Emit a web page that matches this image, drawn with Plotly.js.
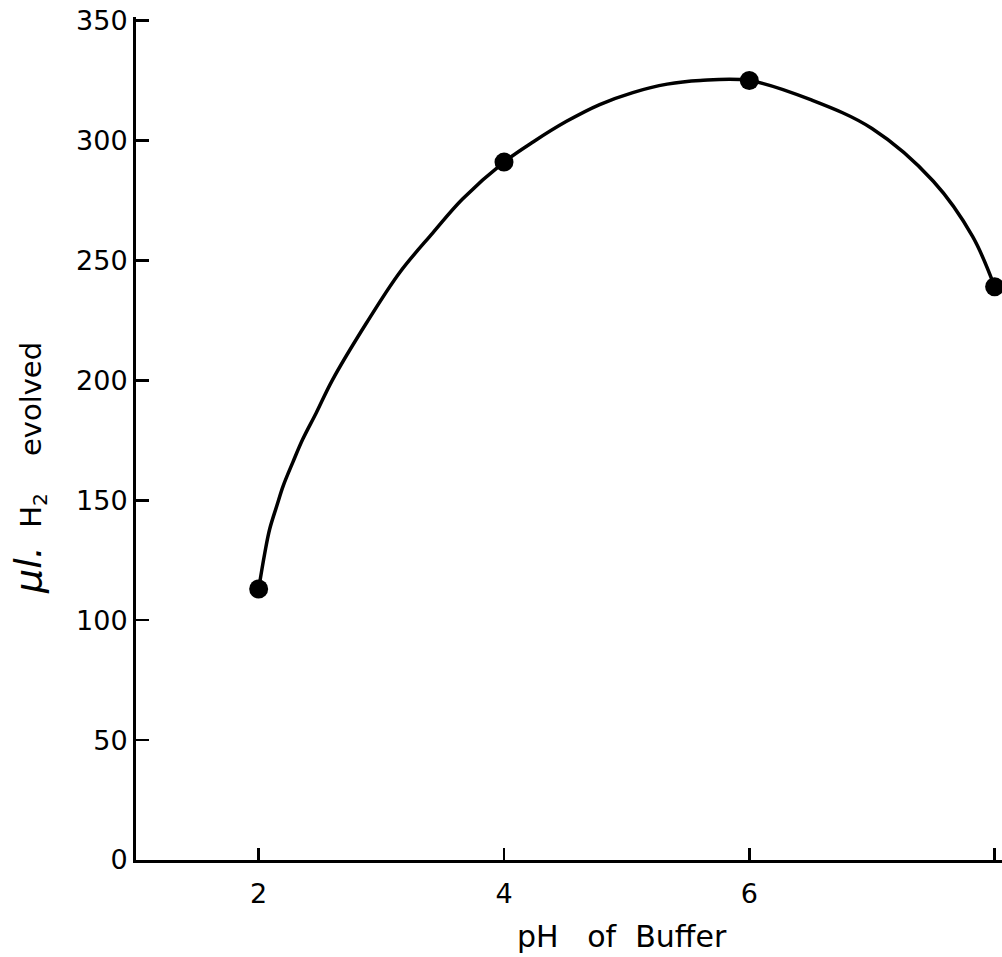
<!DOCTYPE html>
<html>
<head>
<meta charset="utf-8">
<script src="https://cdn.plot.ly/plotly-3.0.1.min.js"></script>
<style>html,body{margin:0;padding:0;background:#fff;}#chart{width:1002px;height:957px;}</style>
</head>
<body>
<div id="chart"></div>
<script>
// Measured points
var phValues = [2, 4, 6, 8];
var h2Evolved = [113, 291, 325, 239];

// Smooth curve drawn through the points
var curvePh = [2.0, 2.05, 2.09, 2.15, 2.2, 2.28, 2.36, 2.47, 2.6, 2.88, 3.15, 3.42, 3.66, 4.0, 4.24, 4.51, 4.78, 5.05, 5.33, 5.6, 6.0, 6.5, 7.0, 7.5, 7.82, 8.0];
var curveH2 = [113, 128, 138, 148, 156, 166, 175.5, 186.5, 200, 224, 245, 261.5, 275.5, 291, 299.5, 308, 315, 320, 323.5, 325, 325, 317, 305, 283, 260, 239];

var xTickVals = [2, 4, 6, 8];
var xTickText = ['2', '4', '6', '8'];
var yTickVals = [0, 50, 100, 150, 200, 250, 300, 350];
var yTickText = ['0', '50', '100', '150', '200', '250', '300', '350'];

var fontFam = 'DejaVu Sans, Verdana, sans-serif';

var traces = [
  {
    x: curvePh, y: curveH2, type: 'scatter', mode: 'lines',
    line: {color: '#000', width: 3.5, shape: 'spline', smoothing: 1.0},
    hoverinfo: 'skip', showlegend: false
  },
  {
    x: phValues, y: h2Evolved, type: 'scatter', mode: 'markers',
    marker: {color: '#000', size: 19},
    showlegend: false
  }
];

var layout = {
  width: 1002, height: 957,
  margin: {l: 136, r: 0, t: 17, b: 97, pad: 0},
  paper_bgcolor: '#fff', plot_bgcolor: '#fff',
  font: {family: fontFam, color: '#000', size: 27},
  showlegend: false,
  xaxis: {
    range: [1.0, 8.06], showgrid: false, zeroline: false,
    showline: true, linecolor: '#000', linewidth: 3,
    ticks: 'inside', ticklen: 12, tickwidth: 2.5, tickcolor: '#000',
    tickvals: xTickVals, ticktext: xTickText,
    tickfont: {family: fontFam, size: 27, color: '#000'},
    ticklabelstandoff: 8
  },
  yaxis: {
    range: [0, 351.5], showgrid: false, zeroline: false,
    showline: true, linecolor: '#000', linewidth: 3,
    ticks: 'inside', ticklen: 13, tickwidth: 2.5, tickcolor: '#000',
    tickvals: yTickVals, ticktext: yTickText,
    tickfont: {family: fontFam, size: 27, color: '#000'}
  },
  annotations: [
    {
      text: 'pH\u00a0\u00a0\u00a0of\u00a0\u00a0Buffer', xref: 'paper', yref: 'paper',
      x: 0.561, y: -0.0906, xanchor: 'center', yanchor: 'middle',
      showarrow: false, font: {family: fontFam, size: 30, color: '#000'}
    },
    {
      text: '<span style="font-size:38px"><i>μl.</i></span>\u00a0\u00a0H<sub>2</sub>\u00a0\u00a0\u00a0\u00a0evolved', xref: 'paper', yref: 'paper',
      x: -0.1236, y: 0.465, xanchor: 'center', yanchor: 'middle',
      textangle: -90, showarrow: false,
      font: {family: fontFam, size: 29, color: '#000'}
    }
  ]
};

Plotly.newPlot('chart', traces, layout, {displayModeBar: false, staticPlot: true});
</script>
</body>
</html>
